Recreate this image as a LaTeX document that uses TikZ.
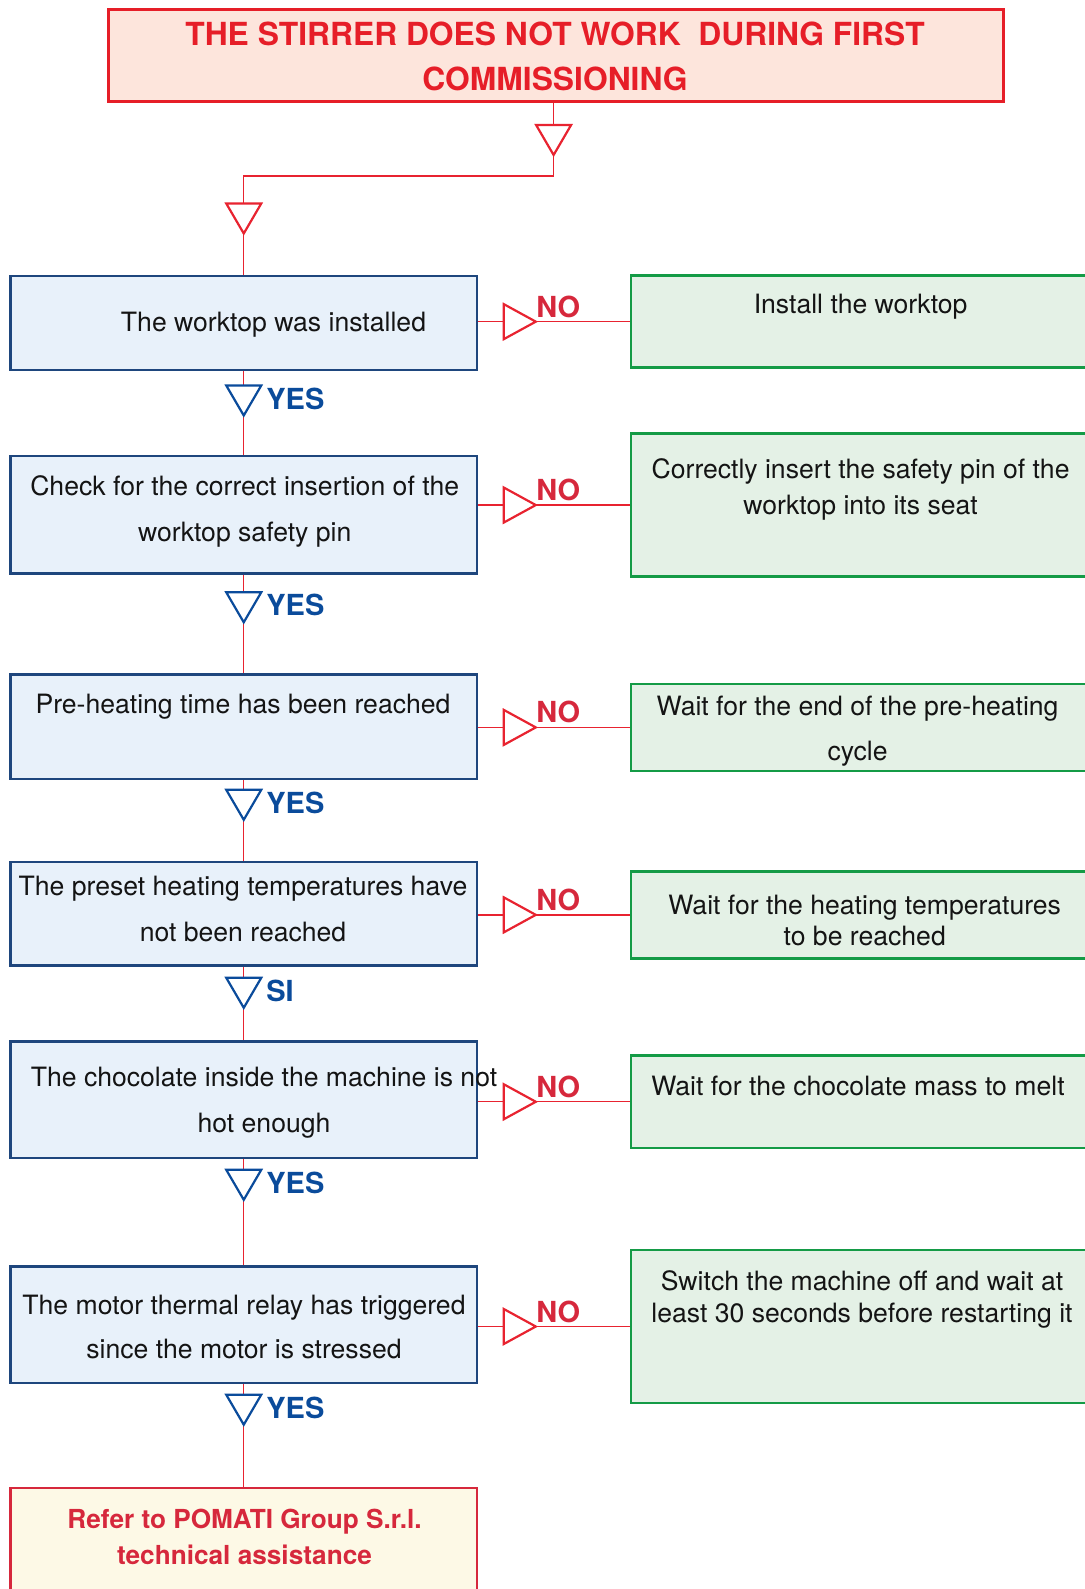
\documentclass[tikz,border=0pt]{standalone}
\usepackage{fontspec}
\setmainfont{TeX Gyre Heros}
\usetikzlibrary{calc, fit}

\begin{document}
\begin{tikzpicture}[x=0.5pt, y=-0.5pt,
    qbox/.style={draw=boxblue, fill=boxbluefill, line width=1.3pt, inner sep=0pt},
    abox/.style={draw=boxgreen, fill=boxgreenfill, line width=1.3pt, inner sep=0pt},
    txt/.style={inner sep=0pt, align=center, text=textblack, font=\fontsize{13.3}{23.3}\selectfont},
    link/.style={draw=linkred, line width=0.7pt},
    yeslbl/.style={anchor=west, inner sep=0pt, text=yesblue, font=\bfseries\fontsize{14.5}{17}\selectfont},
    nolbl/.style={anchor=west, inner sep=0pt, text=nored, font=\bfseries\fontsize{14.5}{17}\selectfont},
    pics/downtri/.style={code={\draw[line width=1.1pt, fill=white] (-17.5,-15) -- (17.5,-15) -- (0,15) -- cycle;}},
    pics/righttri/.style={code={\draw[line width=1.1pt, fill=white] (-16,-17.5) -- (-16,17.5) -- (16,0) -- cycle;}}
]

%my colors
\definecolor{linkred}{RGB}{232, 35, 48}
\definecolor{titlered}{RGB}{230, 30, 40}
\definecolor{titlefill}{RGB}{253, 229, 220}
\definecolor{nored}{RGB}{214, 40, 60}
\definecolor{yesblue}{RGB}{10, 75, 155}
\definecolor{boxblue}{RGB}{30, 70, 125}
\definecolor{boxbluefill}{RGB}{232, 241, 250}
\definecolor{boxgreen}{RGB}{20, 155, 70}
\definecolor{boxgreenfill}{RGB}{228, 241, 230}
\definecolor{referfill}{RGB}{253, 249, 230}
\definecolor{textblack}{RGB}{20, 20, 20}

    % Page frame
    \useasboundingbox (0,0) rectangle (1085,1589);
    \clip (0,0) rectangle (1085,1589);

    % Title
    \node[draw=titlered, fill=titlefill, line width=1.5pt, inner sep=0pt, fit={(108.5,9.5) (1003.5,101.5)}] (title) {};

    % Question boxes (left column)
    \node[qbox, fit={(10.5,276) (477,370)}] (q1) {};
    \node[qbox, fit={(10.5,456) (477,573.4)}] (q2) {};
    \node[qbox, fit={(10.5,674.7) (477,779)}] (q3) {};
    \node[qbox, fit={(10.5,862) (477,965.5)}] (q4) {};
    \node[qbox, fit={(10.5,1041.5) (477,1158)}] (q5) {};
    \node[qbox, fit={(10.5,1266.4) (477,1383)}] (q6) {};
    \node[draw=nored, fill=referfill, line width=1.3pt, inner sep=0pt, fit={(10.5,1488) (477,1620)}] (refer) {};

    % Answer boxes (right column)
    \node[abox, fit={(631,275.6) (1110,367.7)}] (a1) {};
    \node[abox, fit={(631,433.6) (1110,576.5)}] (a2) {};
    \node[abox, fit={(631,683.8) (1110,771)}] (a3) {};
    \node[abox, fit={(631,871.3) (1110,958.4)}] (a4) {};
    \node[abox, fit={(631,1055.5) (1110,1148)}] (a5) {};
    \node[abox, fit={(631,1250) (1110,1403)}] (a6) {};

    % From the title down to the first question
    \coordinate (bendR) at (553.6,176);
    \coordinate (bendL) at (q1.north |- bendR);
    \draw[link] (title.south -| bendR) -- (bendR) -- (bendL) -- (q1.north);
    \pic[linkred] at (553.6,140) {downtri};
    \pic[linkred] at ($(bendL)+(0,42.5)$) {downtri};

    % YES chain
    \draw[link] (q1.south) -- (q2.north);
    \draw[link] (q2.south) -- (q3.north);
    \draw[link] (q3.south) -- (q4.north);
    \draw[link] (q4.south) -- (q5.north);
    \draw[link] (q5.south) -- (q6.north);
    \draw[link] (q6.south) -- (refer.north);
    \foreach \yy/\lbl [count=\i] in {400.5/YES, 607.3/YES, 804.8/YES, 992.8/SI, 1184.8/YES, 1409.7/YES} {
        \pic[yesblue] at (243.75,\yy) {downtri};
        \node[yeslbl] (yes\i) at (266,\yy-2) {\lbl};
    }

    % NO branches
    \foreach \i in {1,...,6} {
        \draw[link] (a\i.west) -- (a\i.west -| q\i.east);
        \pic[linkred] at ($(q\i.east |- a\i.west)+(41.5,0)$) {righttri};
        \node[nolbl] (no\i) at ($(q\i.east |- a\i.west)+(57.7,-15)$) {NO};
    }

    % Texts
    \node[txt, text=titlered, font=\bfseries\fontsize{15.9}{22.3}\selectfont] (titletxt) at (555,56.5) {THE STIRRER DOES NOT WORK~ DURING FIRST\\COMMISSIONING};

    \node[txt] (q1txt) at (273.5,325.2) {The worktop was installed};
    \node[txt] (q2txt) at (244.7,511.6) {Check for the correct insertion of the\\worktop safety pin};
    \node[txt] (q3txt) at (243,707) {Pre-heating time has been reached};
    \node[txt, font=\fontsize{13.3}{22.8}\selectfont] (q4txt) at (243,909.2) {The preset heating temperatures have\\not been reached};
    \node[txt, font=\fontsize{13.3}{22.7}\selectfont] (q5txt) at (264,1102.8) {The chocolate inside the machine is not\\hot enough};
    \node[txt, font=\fontsize{13.3}{22.3}\selectfont] (q6txt) at (244,1327.1) {The motor thermal relay has triggered\\since the motor is stressed};
    \node[txt, text=nored, font=\bfseries\fontsize{13.1}{18.2}\selectfont] (refertxt) at (244.5,1537) {Refer to POMATI Group S.r.l.\\technical assistance};

    \node[txt] (a1txt) at (860.6,307) {Install the worktop};
    \node[txt, font=\fontsize{13.3}{18.2}\selectfont] (a2txt) at (860.6,489.3) {Correctly insert the safety pin of the\\worktop into its seat};
    \node[txt, font=\fontsize{13.3}{22.3}\selectfont] (a3txt) at (857.6,731.4) {Wait for the end of the pre-heating\\cycle};
    \node[txt, font=\fontsize{13.3}{15.7}\selectfont] (a4txt) at (864.7,920.4) {Wait for the heating temperatures\\to be reached};
    \node[txt] (a5txt) at (858,1086) {Wait for the chocolate mass to melt};
    \node[txt, font=\fontsize{13.3}{15.7}\selectfont] (a6txt) at (862,1299.3) {Switch the machine off and wait at\\least 30 seconds before restarting it};

\end{tikzpicture}
\end{document}
